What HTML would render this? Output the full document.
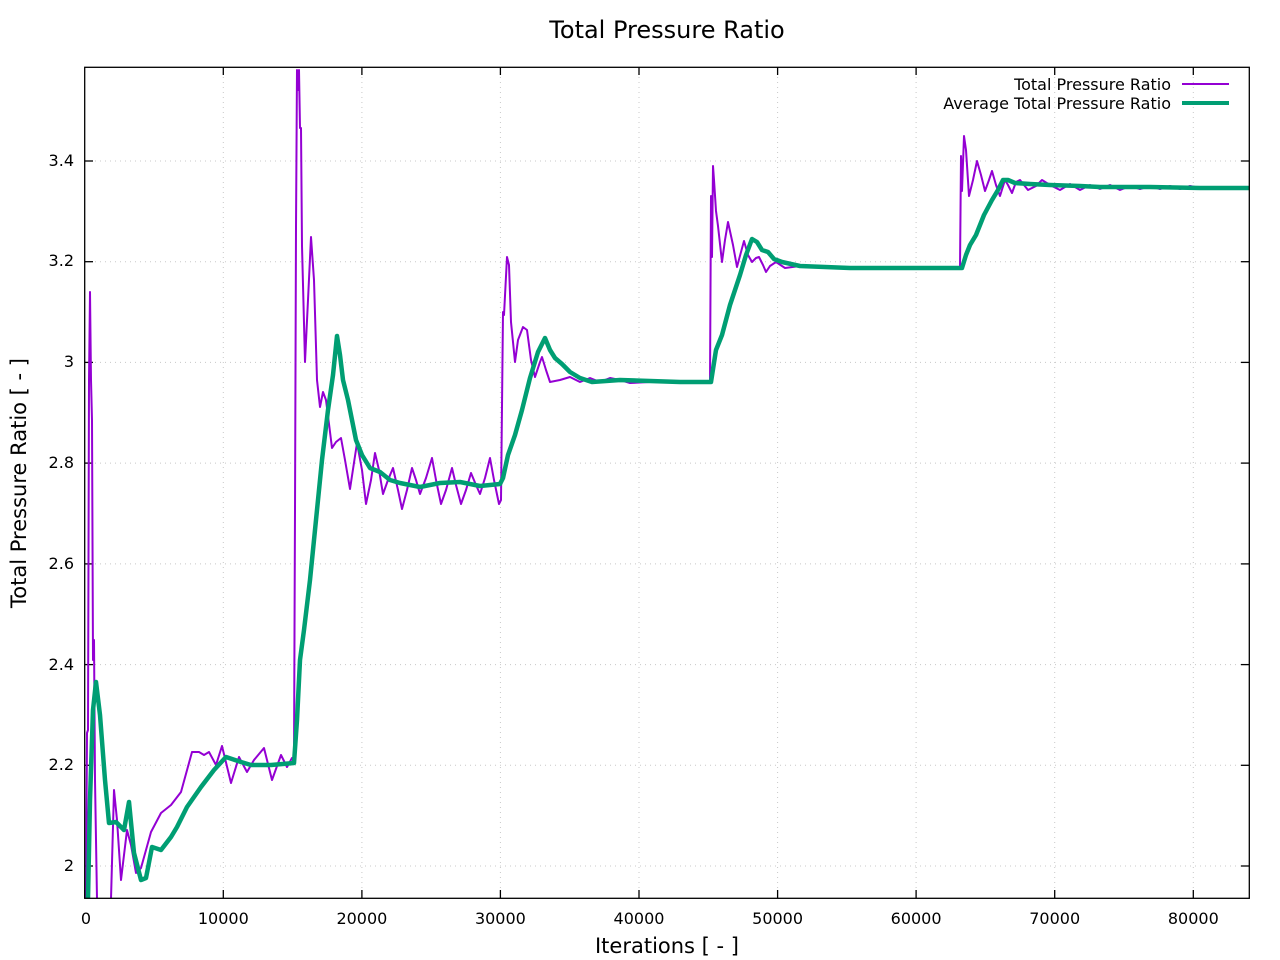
<!DOCTYPE html>
<html><head><meta charset="utf-8"><style>
html,body{margin:0;padding:0;background:#fff;}
svg{display:block;font-family:"DejaVu Sans","Liberation Sans",sans-serif;}
</style></head><body>
<svg width="1280" height="960" viewBox="0 0 1280 960" xmlns="http://www.w3.org/2000/svg">
<rect width="1280" height="960" fill="#fff"/>
<g stroke="#c8c8c8" stroke-width="1" stroke-dasharray="1,4">
<line x1="223.3" y1="67" x2="223.3" y2="898"/><line x1="361.9" y1="67" x2="361.9" y2="898"/><line x1="500.4" y1="67" x2="500.4" y2="898"/><line x1="639" y1="67" x2="639" y2="898"/><line x1="777.6" y1="67" x2="777.6" y2="898"/><line x1="916.1" y1="67" x2="916.1" y2="898"/><line x1="1054.7" y1="67" x2="1054.7" y2="898"/><line x1="1193.3" y1="67" x2="1193.3" y2="898"/>
<line x1="85" y1="866" x2="1249" y2="866"/><line x1="85" y1="765.3" x2="1249" y2="765.3"/><line x1="85" y1="664.6" x2="1249" y2="664.6"/><line x1="85" y1="563.9" x2="1249" y2="563.9"/><line x1="85" y1="463.1" x2="1249" y2="463.1"/><line x1="85" y1="362.4" x2="1249" y2="362.4"/><line x1="85" y1="261.7" x2="1249" y2="261.7"/><line x1="85" y1="161" x2="1249" y2="161"/>
</g>
<g stroke="#000" stroke-width="1.3">
<line x1="84.7" y1="898" x2="84.7" y2="890"/><line x1="223.3" y1="898" x2="223.3" y2="890"/><line x1="361.9" y1="898" x2="361.9" y2="890"/><line x1="500.4" y1="898" x2="500.4" y2="890"/><line x1="639" y1="898" x2="639" y2="890"/><line x1="777.6" y1="898" x2="777.6" y2="890"/><line x1="916.1" y1="898" x2="916.1" y2="890"/><line x1="1054.7" y1="898" x2="1054.7" y2="890"/><line x1="1193.3" y1="898" x2="1193.3" y2="890"/>
<line x1="223.3" y1="67" x2="223.3" y2="75"/><line x1="361.9" y1="67" x2="361.9" y2="75"/><line x1="500.4" y1="67" x2="500.4" y2="75"/><line x1="639" y1="67" x2="639" y2="75"/><line x1="777.6" y1="67" x2="777.6" y2="75"/><line x1="916.1" y1="67" x2="916.1" y2="75"/><line x1="1054.7" y1="67" x2="1054.7" y2="75"/><line x1="1193.3" y1="67" x2="1193.3" y2="75"/>
<line x1="85" y1="866" x2="93" y2="866"/><line x1="85" y1="765.3" x2="93" y2="765.3"/><line x1="85" y1="664.6" x2="93" y2="664.6"/><line x1="85" y1="563.9" x2="93" y2="563.9"/><line x1="85" y1="463.1" x2="93" y2="463.1"/><line x1="85" y1="362.4" x2="93" y2="362.4"/><line x1="85" y1="261.7" x2="93" y2="261.7"/><line x1="85" y1="161" x2="93" y2="161"/>
<line x1="1249" y1="866" x2="1241" y2="866"/><line x1="1249" y1="765.3" x2="1241" y2="765.3"/><line x1="1249" y1="664.6" x2="1241" y2="664.6"/><line x1="1249" y1="563.9" x2="1241" y2="563.9"/><line x1="1249" y1="463.1" x2="1241" y2="463.1"/><line x1="1249" y1="362.4" x2="1241" y2="362.4"/><line x1="1249" y1="261.7" x2="1241" y2="261.7"/><line x1="1249" y1="161" x2="1241" y2="161"/>
</g>
<svg x="85" y="67" width="1164" height="831" viewBox="85 67 1164 831" overflow="hidden">
<polyline fill="none" stroke="#9400d3" stroke-width="2" stroke-linejoin="round" points="86,899 87,733 88,730 89,380 90,292 91,380 92,420 93,660 94,640 95,780 97,899 111,899 114,790 117,820 121,880 127,830 131,845 136,873 141,868 151,832 161,813 171,805 181,792 192,752 199,752 204,755 209,752 216,765 222,746 231,783 239,757 247,772 254,760 264,748 272,780 281,755 287,767 292,758 294,758 295,510 296,227 297,70 298,90 299,70 300,128 301,128 302,246 305,362 308,300 311,237 314,280 317,380 320,407 323,392 326,400 332,448 336,442 341,438 345,460 350,489 357,443 362,470 366,504 371,480 375,453 379,470 383,494 388,480 393,468 398,490 402,509 407,490 412,468 416,480 420,494 426,478 432,458 436,480 441,504 446,490 452,468 456,485 461,504 466,490 471,473 476,485 480,494 485,478 490,458 494,480 499,504 501,500 503,312 504,315 507,257 509,265 511,322 515,362 518,340 523,327 527,330 531,360 535,377 540,362 542,357 546,370 550,382 560,380 570,377 580,382 590,378 600,382 610,378 620,380 630,383 650,382 680,382 710,382 711,196 712,257 713,166 714,180 716,211 718,226 722,262 725,240 728,222 733,245 737,267 741,252 744,241 748,255 752,262 756,258 759,257 763,265 766,272 770,266 776,262 785,268 800,266 830,268 860,268 900,268 960,268 961,156 962,191 964,136 966,150 969,196 973,180 977,161 981,175 985,191 989,180 992,171 996,185 1000,196 1005,180 1008,185 1012,193 1016,182 1020,180 1028,190 1036,186 1042,180 1050,185 1060,190 1070,184 1080,190 1090,185 1100,189 1110,185 1120,190 1130,186 1140,189 1150,186 1160,189 1170,186 1180,189 1190,186 1200,188 1210,187 1220,188 1249,187"/>
<polyline fill="none" stroke="#009e73" stroke-width="4.5" stroke-linejoin="round" points="88,899 90,800 93,710 96,682 100,715 105,780 109,823 116,822 124,830 129,802 134,853 141,880 146,878 152,847 161,850 171,837 177,827 187,807 201,787 214,770 226,757 241,762 251,765 271,765 294,763 297,720 300,660 304,630 310,580 316,520 322,460 328,410 333,375 337,336 340,355 343,380 348,400 352,420 356,440 362,455 370,468 380,472 390,480 400,483 420,487 440,483 460,482 480,486 500,484 503,478 508,455 515,435 522,410 530,378 538,352 545,338 550,350 555,358 562,364 570,372 580,378 592,382 620,380 650,381 680,382 711,382 716,350 722,335 730,305 740,275 746,255 752,239 757,242 762,250 768,252 774,259 782,262 800,266 850,268 900,268 962,268 966,255 970,245 976,235 984,215 992,200 998,190 1003,180 1008,180 1015,183 1030,184 1050,185 1080,186 1100,187 1150,187 1200,188 1249,188"/>
</svg>
<rect x="84.7" y="67.3" width="1164.6" height="831" fill="none" stroke="#000" stroke-width="1.3"/>
<g font-size="16" fill="#000">
<g text-anchor="middle">
<text x="86" y="924">0</text><text x="223.3" y="924">10000</text><text x="361.9" y="924">20000</text><text x="500.4" y="924">30000</text><text x="639" y="924">40000</text><text x="777.6" y="924">50000</text><text x="916.1" y="924">60000</text><text x="1054.7" y="924">70000</text><text x="1193.3" y="924">80000</text>
</g>
<g text-anchor="end">
<text x="74" y="871">2</text><text x="74" y="770">2.2</text><text x="74" y="670">2.4</text><text x="74" y="569">2.6</text><text x="74" y="468">2.8</text><text x="74" y="367">3</text><text x="74" y="266">3.2</text><text x="74" y="166">3.4</text>
<text x="1171" y="90">Total Pressure Ratio</text>
<text x="1171" y="109">Average Total Pressure Ratio</text>
</g>
</g>
<line x1="1182" y1="84" x2="1229" y2="84" stroke="#9400d3" stroke-width="2"/>
<line x1="1182" y1="103" x2="1229" y2="103" stroke="#009e73" stroke-width="4"/>
<text x="667" y="38" font-size="24" text-anchor="middle">Total Pressure Ratio</text>
<text x="667" y="953" font-size="21" text-anchor="middle">Iterations [ - ]</text>
<text transform="translate(26,483) rotate(-90)" font-size="21" text-anchor="middle">Total Pressure Ratio [ - ]</text>
</svg>
</body></html>
